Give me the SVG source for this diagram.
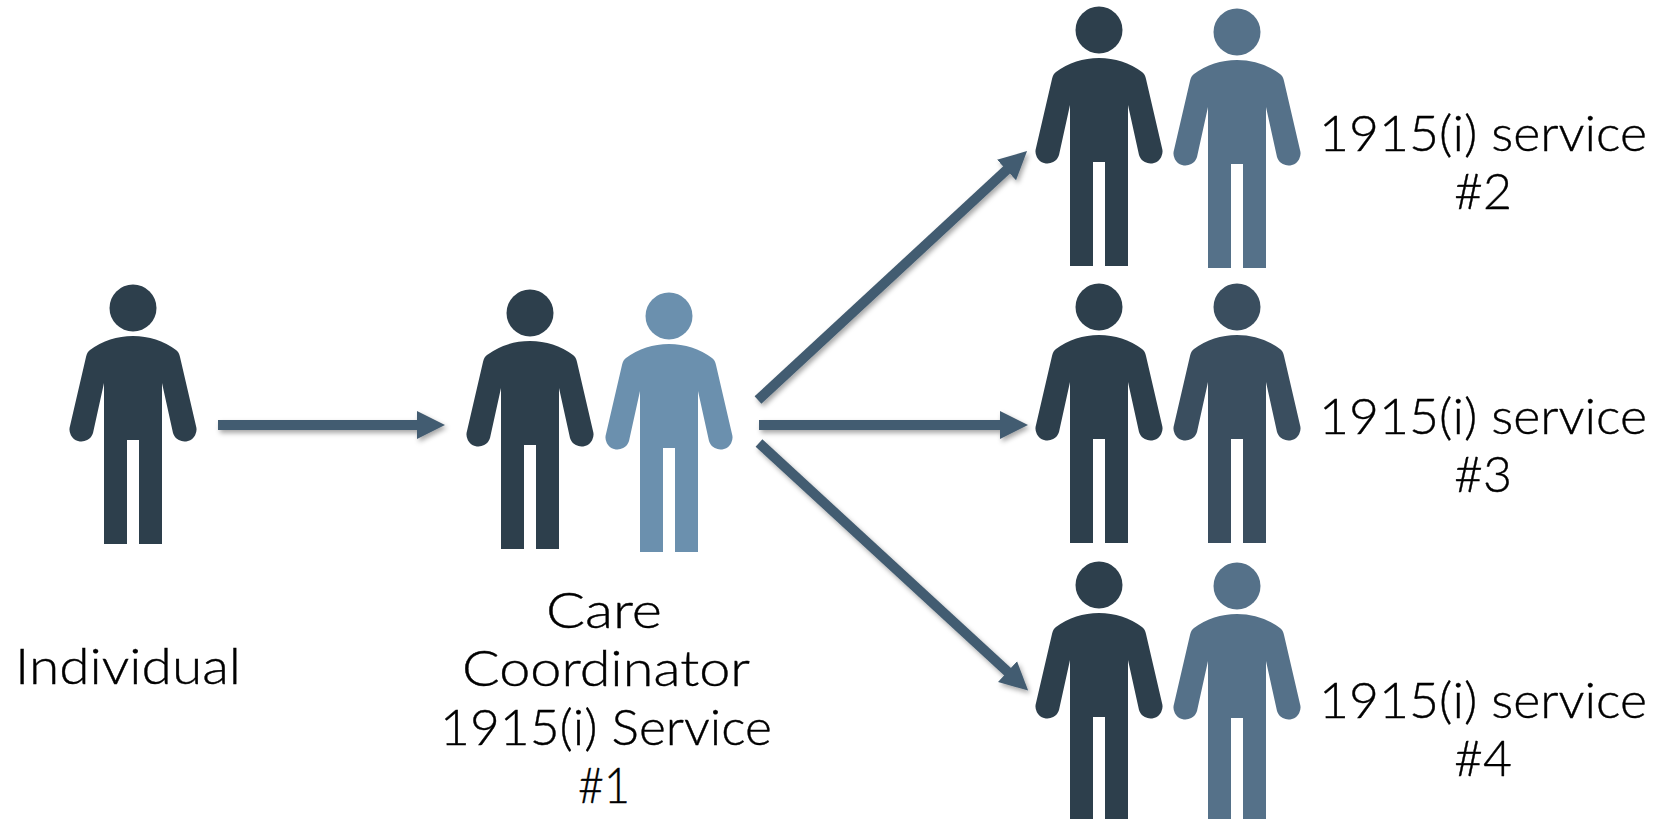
<svg xmlns="http://www.w3.org/2000/svg" width="1662" height="819" viewBox="0 0 1662 819">
<defs>
<filter id="sh" x="0" y="0" width="1662" height="819" filterUnits="userSpaceOnUse"><feDropShadow dx="2" dy="3" stdDeviation="2.5" flood-color="#000" flood-opacity="0.35"/></filter>
<marker id="ah" markerUnits="userSpaceOnUse" markerWidth="32" markerHeight="32" refX="2" refY="15" orient="auto"><path d="M0 1 L28 15 L0 29 Z" fill="#435c71"/></marker>
<path id="p" d="M0 28 Q-24 28 -43 42 Q-46 44 -47 49 L-63 118 A11.5 11.5 0 0 0 -40 125 L-29 75 L-29 236 L-6 236 L-6 132 L6 132 L6 236 L29 236 L29 75 L40 125 A11.5 11.5 0 0 0 63 118 L47 49 Q46 44 43 42 Q24 28 0 28 Z"/>
<g id="person"><circle cx="0" cy="0" r="23.5"/><use href="#p"/></g>
</defs>
<style>
.t{font-family:"Lato","Liberation Sans",sans-serif;font-weight:300;font-size:50px;fill:#000;stroke:#000;stroke-width:.4;text-anchor:middle}
.c{fill:none;stroke:#435c71;stroke-width:10;marker-end:url(#ah)}
.d{fill:#2d3f4c}.l{fill:#6b90ae}.m{fill:#557189}.s{fill:#3a4e5f}
</style>
<rect width="1662" height="819" fill="#fff"/>
<g id="connectors" filter="url(#sh)">
<path class="c" d="M218 425H419"/>
<path class="c" d="M758 400L1008 168.7"/>
<path class="c" d="M759 425H1002"/>
<path class="c" d="M759 443L1009 673"/>
</g>
<g id="individual"><use href="#person" class="d" x="133" y="308"/><text class="t" x="128" y="684" textLength="226" lengthAdjust="spacingAndGlyphs">Individual</text></g>
<g id="service1"><use href="#person" class="d" x="530" y="313"/><use href="#person" class="l" x="669" y="316"/>
<text class="t" x="604" y="628" textLength="116" lengthAdjust="spacingAndGlyphs">Care</text>
<text class="t" x="606" y="686" textLength="288" lengthAdjust="spacingAndGlyphs">Coordinator</text>
<text class="t" x="606" y="745" textLength="332" lengthAdjust="spacingAndGlyphs">1915(i) Service</text>
<text class="t" x="604" y="803" textLength="52" lengthAdjust="spacingAndGlyphs">#1</text></g>
<g id="service2"><use href="#person" class="d" x="1099" y="30"/><use href="#person" class="m" x="1237" y="32"/>
<text class="t" x="1483" y="151" textLength="328" lengthAdjust="spacingAndGlyphs">1915(i) service</text>
<text class="t" x="1483" y="209" textLength="58" lengthAdjust="spacingAndGlyphs">#2</text></g>
<g id="service3"><use href="#person" class="d" x="1099" y="307"/><use href="#person" class="s" x="1237" y="307"/>
<text class="t" x="1483" y="434" textLength="328" lengthAdjust="spacingAndGlyphs">1915(i) service</text>
<text class="t" x="1483" y="492" textLength="58" lengthAdjust="spacingAndGlyphs">#3</text></g>
<g id="service4"><use href="#person" class="d" x="1099" y="585"/><use href="#person" class="m" x="1237" y="586"/>
<text class="t" x="1483" y="718" textLength="328" lengthAdjust="spacingAndGlyphs">1915(i) service</text>
<text class="t" x="1483" y="776" textLength="58" lengthAdjust="spacingAndGlyphs">#4</text></g>
</svg>
